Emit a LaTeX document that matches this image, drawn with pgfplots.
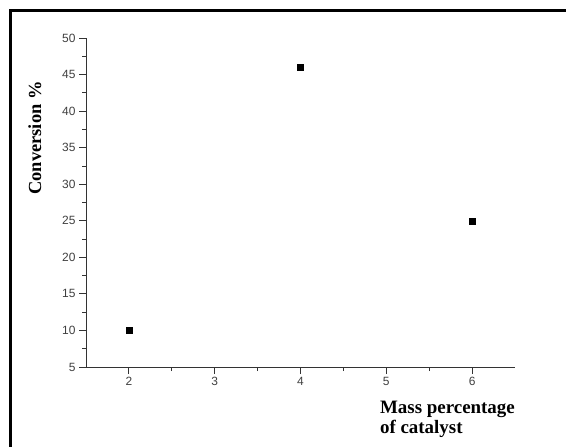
\documentclass[border=0pt]{standalone}
\usepackage{pgfplots}
\pgfplotsset{compat=1.18}
\usepackage{fontspec}
\setmainfont{Liberation Serif}
\newfontfamily\sansf{Liberation Sans}
\begin{document}
\begin{tikzpicture}
\path[use as bounding box] (0,0) rectangle (566bp,447bp);
\draw[line width=3bp] (10bp,0) -- (10bp,436bp) -- (566bp,436bp);
\begin{axis}[
  at={(86bp,80bp)}, anchor=south west,
  scale only axis, width=429bp, height=329bp,
  xmin=1.5, xmax=6.5, ymin=5, ymax=50,
  axis x line=bottom, axis y line=left,
  axis line style={-, black!80, line width=0.8bp},
  xtick={2,3,4,5,6}, ytick={5,10,...,50},
  minor x tick num=1, minor y tick num=1,
  tick align=outside,
  major tick length=7bp, minor tick length=4bp,
  tick style={black!80, line width=0.8bp},
  ticklabel style={font=\sansf\fontsize{12}{14}\selectfont, text=black!75},
  /pgf/number format/assume math mode=true,
  xlabel={Mass percentage\\of catalyst},
  xlabel style={at={(axis description cs:0.685,0)}, anchor=north west, yshift=-34bp,
    inner sep=0pt, align=left, font=\bfseries\fontsize{19}{20}\selectfont},
  ylabel={Conversion \%},
  ylabel style={at={(axis description cs:-0.119,0.696)}, anchor=center, rotate=0,
    font=\bfseries\fontsize{18.5}{20}\selectfont},
]
\addplot[only marks, mark=square*, mark size=3bp, black] coordinates {(2,10) (4,46) (6,25)};
\end{axis}
\end{tikzpicture}
\end{document}
